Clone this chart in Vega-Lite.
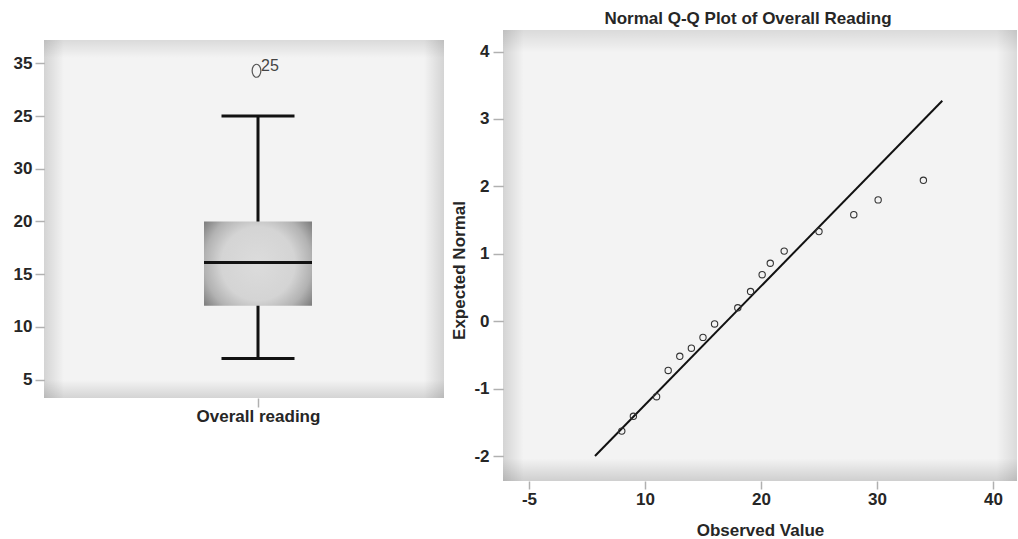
{
  "$schema": "https://vega.github.io/schema/vega-lite/v6.json",
  "padding": {"left": 13, "top": 10, "right": 0, "bottom": 0},
  "background": "white",
  "config": {
    "view": {"stroke": null, "fill": "#f3f3f3"},
    "font": "Liberation Sans",
    "axis": {"grid": false, "domain": false, "tickColor": "#b0b0b0", "tickWidth": 1.5, "labelFont": "Liberation Sans", "labelFontSize": 17, "labelFontWeight": "bold", "labelColor": "#262626", "titleFont": "Liberation Sans", "titleFontSize": 17, "titleFontWeight": "bold", "titleColor": "#262626"},
    "title": {"font": "Liberation Sans", "fontSize": 17, "fontWeight": "bold", "color": "#262626"}
  },
  "spacing": 6,
  "hconcat": [
    {
      "spacing": 9,
      "vconcat": [
        {
          "width": 400,
          "height": 1,
          "view": {"fill": null, "stroke": null},
          "data": {"values": []},
          "mark": "point",
          "encoding": {}
        },
        {
          "width": 400,
          "height": 358,
          "data": {"values": [{"variable": "Overall reading", "lower": 7, "q1": 12, "median": 16.1, "q3": 20, "upper": 30}]},
          "layer": [
            {
              "data": {"values": [{}]},
              "mark": {"type": "rect", "fill": {"gradient": "linear", "x1": 0, "y1": 0, "x2": 1, "y2": 0, "stops": [{"offset": 0, "color": "rgba(0,0,0,0.13)"}, {"offset": 0.05, "color": "rgba(0,0,0,0)"}, {"offset": 0.95, "color": "rgba(0,0,0,0)"}, {"offset": 1, "color": "rgba(0,0,0,0.13)"}]}},
              "encoding": {}
            },
            {
              "data": {"values": [{}]},
              "mark": {"type": "rect", "fill": {"gradient": "linear", "x1": 0, "y1": 0, "x2": 0, "y2": 1, "stops": [{"offset": 0, "color": "rgba(0,0,0,0.1)"}, {"offset": 0.05, "color": "rgba(0,0,0,0)"}, {"offset": 0.95, "color": "rgba(0,0,0,0)"}, {"offset": 1, "color": "rgba(0,0,0,0.13)"}]}},
              "encoding": {}
            },
            {
              "mark": {"type": "rule", "color": "#111111", "strokeWidth": 3},
              "encoding": {
                "x": {"field": "variable", "type": "nominal", "scale": {"type": "point", "align": 0.535, "padding": 0.5}, "axis": {"title": null, "labelAngle": 0, "tickSize": 9, "labelPadding": 1}},
                "y": {"field": "lower", "type": "quantitative", "scale": {"domain": [3.25, 37.22], "nice": false, "zero": false}, "axis": {"title": null, "values": [5, 10, 15, 20, 25, 30, 35], "labelExpr": "datum.value == 30 ? '25' : datum.value == 25 ? '30' : datum.label", "tickSize": 9, "labelPadding": 3}},
                "y2": {"field": "upper"}
              }
            },
            {
              "mark": {"type": "bar", "size": 108, "fill": {"gradient": "radial", "x1": 0.5, "y1": 0.5, "r1": 0, "x2": 0.5, "y2": 0.5, "r2": 0.62, "stops": [{"offset": 0, "color": "#dcdcdc"}, {"offset": 0.55, "color": "#d4d4d4"}, {"offset": 0.8, "color": "#b2b2b2"}, {"offset": 1, "color": "#808080"}]}},
              "encoding": {
                "x": {"field": "variable", "type": "nominal"},
                "y": {"field": "q1", "type": "quantitative", "title": null},
                "y2": {"field": "q3"}
              }
            },
            {
              "mark": {"type": "tick", "size": 108, "thickness": 3, "color": "#111111", "opacity": 1},
              "encoding": {
                "x": {"field": "variable", "type": "nominal"},
                "y": {"field": "median", "type": "quantitative", "title": null}
              }
            },
            {
              "mark": {"type": "tick", "size": 73, "thickness": 3, "color": "#111111", "opacity": 1},
              "encoding": {
                "x": {"field": "variable", "type": "nominal"},
                "y": {"field": "lower", "type": "quantitative", "title": null}
              }
            },
            {
              "mark": {"type": "tick", "size": 73, "thickness": 3, "color": "#111111", "opacity": 1},
              "encoding": {
                "x": {"field": "variable", "type": "nominal"},
                "y": {"field": "upper", "type": "quantitative", "title": null}
              }
            },
            {
              "data": {"values": [{"variable": "Overall reading", "value": 34.3, "case": "25"}]},
              "mark": {"type": "point", "shape": "M0,-1A0.67,1 0 1,1 0,1A0.67,1 0 1,1 0,-1Z", "size": 169, "filled": false, "color": "#555555", "strokeWidth": 1.2, "opacity": 1, "xOffset": -1.5},
              "encoding": {
                "x": {"field": "variable", "type": "nominal"},
                "y": {"field": "value", "type": "quantitative", "title": null}
              }
            },
            {
              "data": {"values": [{"variable": "Overall reading", "value": 34.3, "case": "25"}]},
              "mark": {"type": "text", "align": "left", "baseline": "alphabetic", "dx": 3, "fontSize": 16, "fontWeight": "normal", "color": "#444444", "font": "Liberation Sans"},
              "encoding": {
                "x": {"field": "variable", "type": "nominal"},
                "y": {"field": "value", "type": "quantitative", "title": null},
                "text": {"field": "case"}
              }
            }
          ]
        }
      ]
    },
    {
      "width": 514,
      "height": 451,
      "title": {"text": "Normal Q-Q Plot of Overall Reading", "anchor": "middle", "dx": -12, "offset": 2},
      "layer": [
        {
          "data": {"values": [{}]},
          "mark": {"type": "rect", "fill": {"gradient": "linear", "x1": 0, "y1": 0, "x2": 1, "y2": 0, "stops": [{"offset": 0, "color": "rgba(0,0,0,0.13)"}, {"offset": 0.04, "color": "rgba(0,0,0,0)"}, {"offset": 0.96, "color": "rgba(0,0,0,0)"}, {"offset": 1, "color": "rgba(0,0,0,0.1)"}]}},
          "encoding": {}
        },
        {
          "data": {"values": [{}]},
          "mark": {"type": "rect", "fill": {"gradient": "linear", "x1": 0, "y1": 0, "x2": 0, "y2": 1, "stops": [{"offset": 0, "color": "rgba(0,0,0,0.1)"}, {"offset": 0.05, "color": "rgba(0,0,0,0)"}, {"offset": 0.95, "color": "rgba(0,0,0,0)"}, {"offset": 1, "color": "rgba(0,0,0,0.15)"}]}},
          "encoding": {}
        },
        {
          "data": {"values": [{"observed": 5.69, "expected": -2.0}, {"observed": 35.63, "expected": 3.27}]},
          "mark": {"type": "line", "color": "#111111", "strokeWidth": 2},
          "encoding": {
            "x": {"field": "observed", "type": "quantitative", "scale": {"domain": [-2.24, 42.07], "nice": false, "zero": false}, "axis": {"title": "Observed Value", "values": [0, 10, 20, 30, 40], "labelExpr": "datum.value == 0 ? '-5' : '' + datum.value", "tickSize": 8, "labelPadding": 2, "titlePadding": 15}},
            "y": {"field": "expected", "type": "quantitative", "scale": {"domain": [-2.37, 4.32], "nice": false, "zero": false}, "axis": {"title": "Expected Normal", "values": [-2, -1, 0, 1, 2, 3, 4], "labelExpr": "'' + datum.value", "tickSize": 10, "labelPadding": 4, "titlePadding": 5, "titleY": 240}}
          }
        },
        {
          "data": {"values": [
            {"observed": 8, "expected": -1.63},
            {"observed": 9, "expected": -1.41},
            {"observed": 11, "expected": -1.12},
            {"observed": 12, "expected": -0.73},
            {"observed": 13, "expected": -0.52},
            {"observed": 14, "expected": -0.40},
            {"observed": 15, "expected": -0.24},
            {"observed": 16, "expected": -0.04},
            {"observed": 18, "expected": 0.20},
            {"observed": 19.1, "expected": 0.44},
            {"observed": 20.1, "expected": 0.69},
            {"observed": 20.8, "expected": 0.86},
            {"observed": 22, "expected": 1.04},
            {"observed": 25, "expected": 1.33},
            {"observed": 28, "expected": 1.58},
            {"observed": 30.1, "expected": 1.80},
            {"observed": 34, "expected": 2.09}
          ]},
          "mark": {"type": "point", "shape": "circle", "filled": false, "size": 40, "color": "#333333", "strokeWidth": 1.1, "opacity": 1},
          "encoding": {
            "x": {"field": "observed", "type": "quantitative"},
            "y": {"field": "expected", "type": "quantitative"}
          }
        }
      ]
    }
  ]
}
